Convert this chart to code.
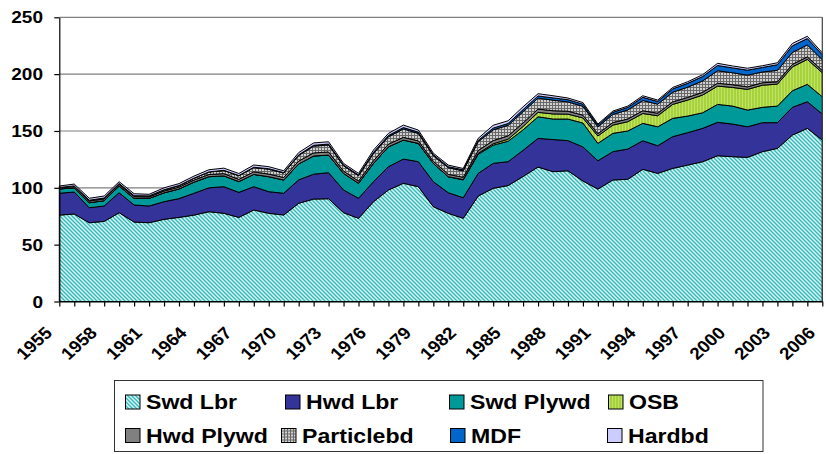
<!DOCTYPE html>
<html>
<head>
<meta charset="utf-8">
<script src="https://cdn.jsdelivr.net/npm/d3@7"></script>
<style>
  body { margin: 0; background: #fff; }
  text { font-family: 'Liberation Sans', Arial, sans-serif; font-weight: bold; fill: #000; }
</style>
</head>
<body>
<div id="chart"></div>
<script>
// categories
const years = [1955, 1956, 1957, 1958, 1959, 1960, 1961, 1962, 1963, 1964,
  1965, 1966, 1967, 1968, 1969, 1970, 1971, 1972, 1973, 1974,
  1975, 1976, 1977, 1978, 1979, 1980, 1981, 1982, 1983, 1984,
  1985, 1986, 1987, 1988, 1989, 1990, 1991, 1992, 1993, 1994,
  1995, 1996, 1997, 1998, 1999, 2000, 2001, 2002, 2003, 2004,
  2005, 2006]

const yearLabels = [1955, 1958, 1961, 1964, 1967, 1970, 1973, 1976, 1979,
  1982, 1985, 1988, 1991, 1994, 1997, 2000, 2003, 2006]
const yTicks = [0, 50, 100, 150, 200, 250]

// series values
const swdLbr = [76, 77, 69.3, 70.5, 78.1, 69.9, 69.3, 72.3, 74, 76,
  79, 77.6, 74, 80.5, 77.6, 76.1, 86.4, 90.1, 90.4, 78.1,
  73.2, 87.8, 98.1, 104, 101, 83.4, 77.6, 73.2, 92.8, 99.6,
  102, 110, 118.3, 114.2, 115, 106, 98.9, 106.9, 107.5, 116.3,
  112.7, 117.1, 120, 123, 128.2, 127.4, 126.8, 131.8, 134.7, 146.4,
  152.3, 142]
const hwdLbr = [19.2, 19.3, 13.2, 13.5, 17.6, 15, 14.7, 15.5, 16.5, 19.2,
  21, 23.4, 22, 20.5, 19, 19.1, 20.6, 21.9, 22.9, 20,
  17.6, 17.6, 20.5, 21.3, 22, 22, 18.1, 18.1, 19.9, 21.9,
  21, 23, 25.2, 28.3, 26.5, 30, 24.9, 24.9, 26.6, 25.1,
  24.3, 27.9, 28.5, 29.3, 29.4, 28.7, 26.9, 25.5, 22.6, 24.4,
  23.4, 22.9]
const swdPlywd = [3.8, 3.7, 4.4, 4.7, 5.9, 5.8, 6.7, 7.8, 8.5, 9.8,
  9.8, 9.5, 9.5, 10.8, 13.2, 11.7, 14, 16, 15.5, 14.6,
  13.2, 16.1, 17.5, 16.7, 16.1, 16.1, 14.1, 15.6, 16.8, 16,
  18, 18, 19, 18, 19, 21, 15.3, 16.1, 15.9, 15.3,
  16.7, 16.1, 14.6, 13.7, 15.8, 15.8, 14.7, 13.5, 14.6, 14.6,
  15.3, 15.2]
const osb = [0, 0, 0, 0, 0, 0, 0, 0, 0, 0,
  0, 0, 0, 0, 0, 0, 0, 0, 0, 0,
  0, 0, 0, 0, 0, 0, 0, 0.4, 0.8, 1.2,
  1.8, 3, 3.9, 4.5, 4.3, 4.5, 6.5, 7.3, 8.2, 8.7,
  9.7, 12.3, 14.1, 15.6, 16.1, 16.4, 18.2, 19.5, 19.3, 21,
  22, 21.1]
const hwdPlywd = [1, 1.2, 1.5, 1.5, 1.4, 1.5, 1.3, 1.6, 1.6, 1.8,
  1.9, 2, 1.9, 2.2, 2.3, 2.2, 2.5, 2.7, 2.7, 2,
  1.9, 2.3, 2.3, 2.4, 2.2, 1.9, 2, 2, 2.5, 2.8,
  2.9, 3, 2.9, 2.8, 2.6, 2.4, 2, 2.2, 2.3, 2.4,
  2.2, 2.2, 2.3, 2.4, 2.5, 2.4, 2.2, 2.1, 2.1, 2.2,
  2.2, 2]
const particlebd = [0.3, 0.5, 0.7, 0.8, 0.8, 0.9, 0.9, 1.1, 1.3, 1.6,
  2.2, 2.7, 3.2, 3.8, 4.3, 3.9, 5, 6, 6.2, 4.6,
  4.7, 6.4, 6.5, 7.4, 6.5, 4.8, 5.9, 5.6, 7.8, 9.5,
  9.3, 10, 9.6, 9.3, 8.2, 7.8, 6, 7.2, 8, 9,
  8, 8.5, 9, 10, 11, 10.5, 10.3, 9.5, 10, 10.5,
  10.5, 9.5]
const mdf = [0, 0, 0, 0, 0, 0, 0, 0, 0.1, 0.1,
  0.1, 0.2, 0.2, 0.3, 0.4, 0.4, 0.5, 0.7, 0.8, 0.7,
  0.7, 1, 1.1, 1.2, 1.2, 0.9, 0.9, 0.9, 1.1, 1.5,
  1.6, 1.8, 1.9, 2, 1.9, 1.9, 1.5, 1.8, 2.2, 2.8,
  2.4, 2.9, 3.4, 3.9, 4.6, 4.3, 4.4, 4, 5, 5.8,
  5.6, 4.4]
const hardbd = [1.3, 1.6, 1.7, 1.8, 1.6, 1.7, 1.4, 1.7, 1.7, 1.8,
  1.9, 1.9, 1.8, 2, 1.8, 1.6, 2, 2.1, 2, 1.5,
  1.4, 2, 1.9, 2.2, 1.8, 1.4, 1.4, 1.2, 1.8, 2.5,
  2.4, 2.5, 2, 1.9, 1.5, 1.4, 1, 1.1, 1.2, 1.4,
  1.2, 1.3, 1.4, 1.6, 1.9, 1.7, 1.7, 1.5, 1.7, 2.1,
  2, 1.7]

const seriesNames = ['Swd Lbr', 'Hwd Lbr', 'Swd Plywd', 'OSB', 'Hwd Plywd', 'Particlebd', 'MDF', 'Hardbd']
const seriesValues = [swdLbr, hwdLbr, swdPlywd, osb, hwdPlywd, particlebd, mdf, hardbd]

const fills = {
  'Swd Lbr': 'url(#pat-swd)',
  'Hwd Lbr': '#333399',
  'Swd Plywd': '#009999',
  'OSB': 'url(#pat-osb)',
  'Hwd Plywd': '#808080',
  'Particlebd': 'url(#pat-grid)',
  'MDF': '#0066CC',
  'Hardbd': '#CCCCFF'
}

const W = 826
const H = 454
const plot = { left: 59.3, right: 822.3, top: 17.3, bottom: 301.5 }

const svg = d3
  .select('#chart')
  .append('svg')
  .attr('width', W)
  .attr('height', H)

// fill patterns
const defs = svg.append('defs')

const pSwd = defs.append('pattern')
  .attr('id', 'pat-swd')
  .attr('patternUnits', 'userSpaceOnUse')
  .attr('width', 4)
  .attr('height', 4)
pSwd.append('rect').attr('width', 4).attr('height', 4).attr('fill', '#D6F4F4')
pSwd.append('path')
  .attr('d', 'M0,0 L4,4 M-1,3 L1,5 M3,-1 L5,1')
  .attr('stroke', '#33B8B8')
  .attr('stroke-width', 1.3)

const pOsb = defs.append('pattern')
  .attr('id', 'pat-osb')
  .attr('patternUnits', 'userSpaceOnUse')
  .attr('width', 3)
  .attr('height', 3)
pOsb.append('rect').attr('width', 3).attr('height', 3).attr('fill', '#A6D23C')
pOsb.append('rect').attr('x', 1).attr('width', 1).attr('height', 3).attr('fill', '#C2E266')

const pGrid = defs.append('pattern')
  .attr('id', 'pat-grid')
  .attr('patternUnits', 'userSpaceOnUse')
  .attr('width', 3)
  .attr('height', 3)
pGrid.append('rect').attr('width', 3).attr('height', 3).attr('fill', '#D0D0D0')
pGrid.append('path')
  .attr('d', 'M0,0.5 H3 M0.5,0 V3')
  .attr('stroke', '#686868')
  .attr('stroke-width', 1)

// scales
const xPositionScale = d3
  .scalePoint()
  .domain(years)
  .range([plot.left, plot.right])

const yPositionScale = d3
  .scaleLinear()
  .domain([0, 250])
  .range([plot.bottom, plot.top])

// table for the stack
const table = years.map((yr, i) => {
  const row = { year: yr }
  seriesNames.forEach((name, k) => {
    row[name] = seriesValues[k][i]
  })
  return row
})

const stacked = d3.stack().keys(seriesNames)(table)

// gridlines
svg
  .append('g')
  .selectAll('line')
  .data(yTicks.filter(d => d > 0))
  .enter()
  .append('line')
  .attr('x1', plot.left)
  .attr('x2', plot.right)
  .attr('y1', d => yPositionScale(d))
  .attr('y2', d => yPositionScale(d))
  .attr('stroke', '#808080')
  .attr('stroke-width', 1.2)

const area = d3
  .area()
  .x(d => xPositionScale(d.data.year))
  .y0(d => yPositionScale(d[0]))
  .y1(d => yPositionScale(d[1]))

svg
  .append('g')
  .selectAll('path')
  .data(stacked)
  .enter()
  .append('path')
  .attr('d', area)
  .attr('fill', d => fills[d.key])
  .attr('stroke', '#000')
  .attr('stroke-width', 1)
  .attr('stroke-linejoin', 'round')

// right border of the plot area
svg
  .append('line')
  .attr('x1', plot.right)
  .attr('x2', plot.right)
  .attr('y1', plot.top)
  .attr('y2', plot.bottom)
  .attr('stroke', '#404040')
  .attr('stroke-width', 1.2)

// axes
const xAxis = d3
  .axisBottom(xPositionScale)
  .tickSize(5)
  .tickSizeOuter(0)
  .tickFormat('')
svg
  .append('g')
  .attr('class', 'axis x-axis')
  .attr('transform', 'translate(0,' + plot.bottom + ')')
  .call(xAxis)

const yAxis = d3
  .axisLeft(yPositionScale)
  .tickValues(yTicks)
  .tickSize(5)
  .tickSizeOuter(0)
  .tickFormat('')
svg
  .append('g')
  .attr('class', 'axis y-axis')
  .attr('transform', 'translate(' + plot.left + ',0)')
  .call(yAxis)

svg.selectAll('.axis path, .axis line')
  .attr('stroke', '#000')
  .attr('stroke-width', 1.2)

// y labels
svg
  .append('g')
  .selectAll('text')
  .data(yTicks)
  .enter()
  .append('text')
  .attr('transform', d => 'translate(43,' + yPositionScale(d) + ') scale(1.12,1)')
  .attr('text-anchor', 'end')
  .attr('dy', '0.36em')
  .style('font-size', '17px')
  .text(d => d)

// x labels
svg
  .append('g')
  .selectAll('text')
  .data(yearLabels)
  .enter()
  .append('text')
  .attr('transform', d => 'translate(' + (xPositionScale(d) - 6) + ',334) scale(1.1,1) rotate(-45)')
  .attr('text-anchor', 'end')
  .style('font-size', '17px')
  .text(d => d)

// legend
const legend = svg.append('g')
legend
  .append('rect')
  .attr('x', 114.5)
  .attr('y', 380.5)
  .attr('width', 648.5)
  .attr('height', 71)
  .attr('fill', '#fff')
  .attr('stroke', '#333')
  .attr('stroke-width', 1)

const legendItems = [
  { name: 'Swd Lbr', x: 125, y: 409 },
  { name: 'Hwd Lbr', x: 285, y: 409 },
  { name: 'Swd Plywd', x: 449, y: 409 },
  { name: 'OSB', x: 608, y: 409 },
  { name: 'Hwd Plywd', x: 125, y: 442.5 },
  { name: 'Particlebd', x: 281, y: 442.5 },
  { name: 'MDF', x: 450, y: 442.5 },
  { name: 'Hardbd', x: 607, y: 442.5 }
]

const item = legend
  .selectAll('g.item')
  .data(legendItems)
  .enter()
  .append('g')
  .attr('class', 'item')
  .attr('transform', d => 'translate(' + d.x + ',' + d.y + ')')

item
  .append('rect')
  .attr('x', 0.5)
  .attr('y', -14)
  .attr('width', 14.5)
  .attr('height', 14)
  .attr('fill', d => fills[d.name])
  .attr('stroke', '#000')
  .attr('stroke-width', 1)

item
  .append('text')
  .attr('transform', 'translate(21,0) scale(1.1,1)')
  .style('font-size', '21px')
  .text(d => d.name)
</script>
</body>
</html>
